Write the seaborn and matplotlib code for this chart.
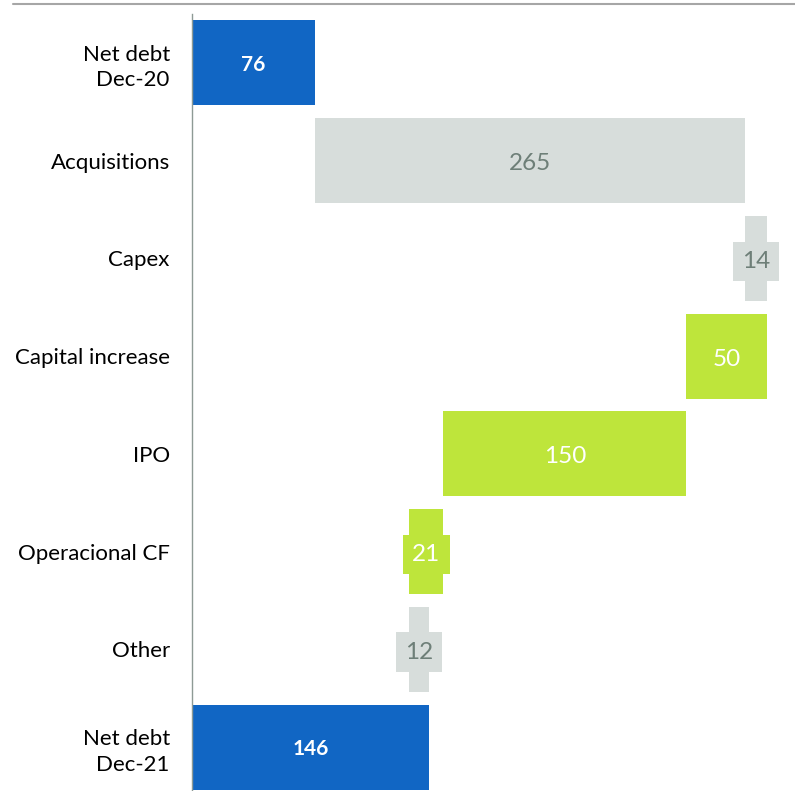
import matplotlib
matplotlib.use("Agg")
import matplotlib.pyplot as plt
import seaborn as sns
import pandas as pd
from matplotlib.lines import Line2D

categories = ["Net debt\nDec-20", "Acquisitions", "Capex", "Capital increase",
              "IPO", "Operacional CF", "Other", "Net debt\nDec-21"]
changes = [76, 265, 14, -50, -150, -21, 12, 146]
kinds = ["total", "step", "step", "step", "step", "step", "step", "total"]

# waterfall start/end
starts, ends = [], []
running = 0
for v, k in zip(changes, kinds):
    if k == "total":
        starts.append(0)
        ends.append(v)
        running = v
    else:
        starts.append(running)
        running += v
        ends.append(running)

lo = [min(s, e) for s, e in zip(starts, ends)]
hi = [max(s, e) for s, e in zip(starts, ends)]

BLUE = "#1166C4"
GRAY = "#D7DDDB"
GREEN = "#BEE53B"
bar_colors = [BLUE if k == "total" else (GRAY if c > 0 else GREEN) for k, c in zip(kinds, changes)]

df = pd.DataFrame({"cat": categories, "hi": hi, "lo": lo})

sns.set_theme(style="white")
plt.rcParams["font.family"] = ["Lato", "DejaVu Sans"]

fig = plt.figure(figsize=(7.95, 7.91), dpi=100)
ax = fig.add_axes([192 / 795, 0, 1 - 192 / 795, 1 - 14 / 791])

sns.barplot(data=df, y="cat", x="hi", hue="cat", palette=bar_colors, legend=False,
            width=0.87, orient="y", ax=ax, saturation=1, linewidth=0)
sns.barplot(data=df, y="cat", x="lo", color="white", width=0.87, orient="y",
            ax=ax, saturation=1, linewidth=0)

ax.set_xlim(0, 372)
ax.set_ylim(7.45, -0.5)
ax.set_xlabel("")
ax.set_ylabel("")
ax.set_xticks([])
for s in ["top", "right", "bottom"]:
    ax.spines[s].set_visible(False)
ax.spines["left"].set_color("#8E9A95")
ax.spines["left"].set_linewidth(1.0)
ax.tick_params(axis="y", length=0, pad=16, labelsize=16, labelcolor="black")
for t in ax.get_yticklabels():
    t.set_linespacing(1.35)

for i, (c, k, l, h) in enumerate(zip(changes, kinds, lo, hi)):
    mid = (l + h) / 2
    col = bar_colors[i]
    if k == "total":
        ax.text(mid, i + 0.02, f"{abs(c)}", ha="center", va="center", color="white",
                fontsize=15, fontweight="bold")
    else:
        tc = "#6E7F78" if col == GRAY else "white"
        ax.text(mid, i + 0.03, f"{abs(c)}", ha="center", va="center", color=tc,
                fontsize=17.5,
                bbox=dict(boxstyle="square,pad=0.38", facecolor=col, edgecolor="none"))

fig.add_artist(Line2D([13 / 795, 1], [1 - 4 / 791, 1 - 4 / 791], color="#A6A6A6",
                      linewidth=1.5, transform=fig.transFigure))

fig.savefig("out.png", dpi=100)
